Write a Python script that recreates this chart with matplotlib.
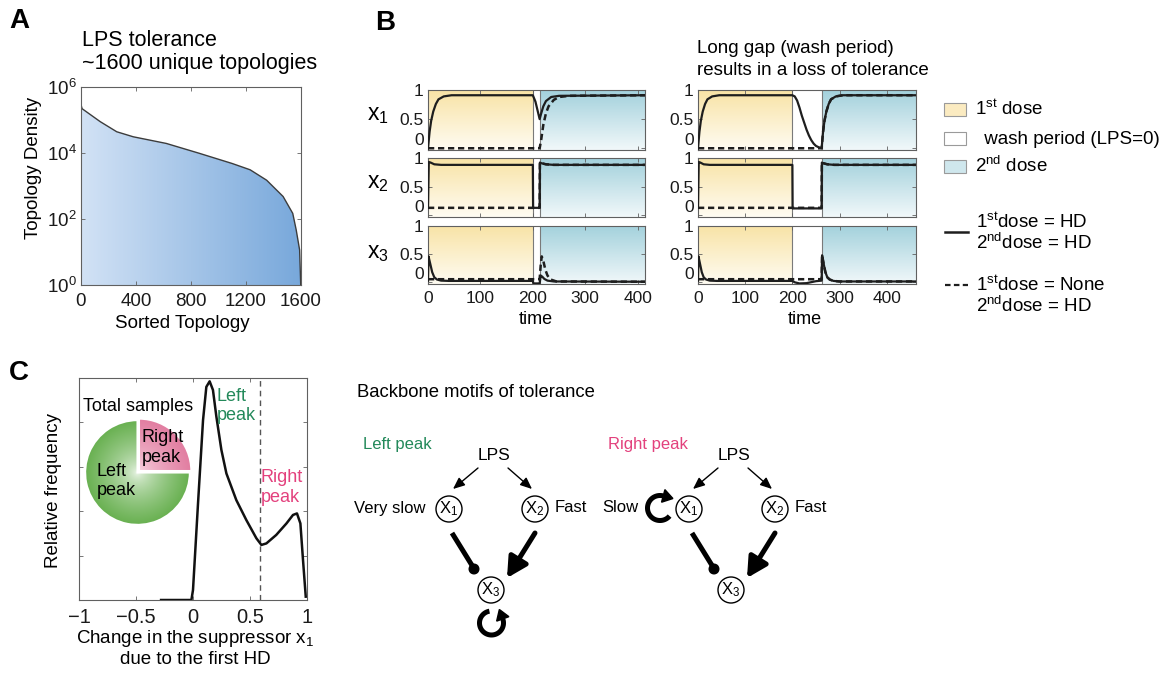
import numpy as np
import matplotlib
matplotlib.use("agg")
import matplotlib.pyplot as plt
from matplotlib.colors import LinearSegmentedColormap, to_rgb
from matplotlib.patches import Polygon, Rectangle, Circle, FancyArrowPatch
from matplotlib.ticker import NullLocator

plt.rcParams['font.family'] = ['Liberation Sans', 'DejaVu Sans']
plt.rcParams['mathtext.fontset'] = 'custom'
plt.rcParams['mathtext.rm'] = 'Liberation Sans'
plt.rcParams['mathtext.it'] = 'Liberation Sans:italic'
plt.rcParams['mathtext.bf'] = 'Liberation Sans:bold'

W, H = 1166, 680

# ---- A: density of each unique topology, sorted
topo_rank = [0, 8, 140, 260, 380, 620, 860, 1100, 1230, 1350, 1470, 1540, 1565, 1590, 1598]
topo_density = [2.9e5, 2.2e5, 8.9e4, 4.4e4, 3.1e4, 1.95e4, 9.8e3, 4.8e3, 3.1e3,
                1.5e3, 480, 148, 47, 11.5, 1]

# ---- B: time courses (time, level); short gap = wash 200-213, long gap = wash 200-262
short_wash = (200, 213)
long_wash = (200, 262)

short_x1_hd = [(0, 0), (3, 0.28), (6, 0.47), (10, 0.63), (15, 0.76), (20, 0.84), (30, 0.89),
               (45, 0.91), (200, 0.91), (205, 0.80), (209, 0.65), (213, 0.50), (216, 0.60),
               (220, 0.72), (225, 0.81), (235, 0.88), (250, 0.90), (414, 0.91)]
short_x1_none = [(0, 0), (213, 0), (216, 0.15), (220, 0.40), (225, 0.60), (230, 0.72),
                 (240, 0.83), (250, 0.88), (270, 0.90), (414, 0.91)]
short_x2_hd = [(0, 0.13), (1.5, 0.93), (5, 0.92), (12, 0.89), (25, 0.88), (200, 0.88),
               (200.5, 0.13), (213, 0.13), (213.5, 0.92), (216, 0.91), (225, 0.89),
               (240, 0.88), (414, 0.88)]
short_x2_none = [(0, 0.13), (213, 0.13), (213.5, 0.92), (216, 0.91), (225, 0.89),
                 (240, 0.88), (414, 0.88)]
short_x3_hd = [(0, 0.03), (1, 0.46), (4, 0.34), (8, 0.18), (12, 0.09), (17, 0.05), (25, 0.03),
               (40, 0.025), (200, 0.025), (201, -0.02), (213, -0.02), (215, 0.12), (218, 0.10),
               (222, 0.06), (228, 0.03), (240, 0.015), (414, 0.01)]
short_x3_none = [(0, 0.055), (213, 0.055), (215, 0.30), (217, 0.46), (220, 0.38), (224, 0.22),
                 (228, 0.12), (234, 0.05), (245, 0.015), (414, 0.01)]

long_x1_hd = [(0, 0), (3, 0.28), (6, 0.47), (10, 0.63), (15, 0.76), (20, 0.84), (30, 0.89),
              (45, 0.91), (200, 0.91), (205, 0.89), (210, 0.82), (215, 0.70), (220, 0.56),
              (225, 0.44), (230, 0.32), (235, 0.22), (240, 0.14), (245, 0.08), (250, 0.04),
              (255, 0.02), (262, 0), (265, 0.28), (268, 0.47), (272, 0.63), (277, 0.76),
              (282, 0.84), (292, 0.89), (307, 0.91), (462, 0.91)]
long_x1_none = [(0, 0), (262, 0), (265, 0.28), (268, 0.47), (272, 0.63), (277, 0.76),
                (282, 0.84), (292, 0.89), (307, 0.91), (462, 0.91)]
long_x2_hd = [(0, 0.13), (1.5, 0.93), (5, 0.92), (12, 0.89), (25, 0.88), (200, 0.88),
              (200.5, 0.12), (262, 0.12), (262.5, 0.92), (265, 0.91), (274, 0.89),
              (289, 0.88), (462, 0.88)]
long_x2_none = [(0, 0.13), (262, 0.13), (262.5, 0.92), (265, 0.91), (274, 0.89),
                (289, 0.88), (462, 0.88)]
long_x3_hd = [(0, 0.03), (1, 0.46), (4, 0.34), (8, 0.18), (12, 0.09), (17, 0.05), (25, 0.03),
              (40, 0.025), (200, 0.025), (205, 0.0), (215, -0.02), (230, -0.015), (250, 0.02),
              (262, 0.03), (263, 0.48), (266, 0.34), (270, 0.18), (274, 0.09), (279, 0.05),
              (287, 0.025), (300, 0.015), (462, 0.015)]
long_x3_none = [(0, 0.055), (262, 0.055), (263, 0.48), (266, 0.34), (270, 0.18), (274, 0.09),
                (279, 0.05), (287, 0.025), (300, 0.015), (462, 0.015)]

# ---- C: distribution of the change in x1 after the first HD
shift_x = [-0.28, -0.014, 0.0, 0.044, 0.088, 0.117, 0.146, 0.175, 0.205, 0.249, 0.293, 0.38,
           0.468, 0.556, 0.60, 0.644, 0.73, 0.82, 0.877, 0.912, 0.942, 0.965, 0.989]
rel_freq = [0, 0, 0.045, 0.435, 0.81, 0.96, 0.985, 0.946, 0.826, 0.676, 0.57, 0.45, 0.36,
            0.278, 0.248, 0.255, 0.293, 0.345, 0.383, 0.39, 0.345, 0.18, 0.015]
peak_split = 0.59
pie_shares = [25, 75]          # right peak, left peak

fig = plt.figure(figsize=(W / 100, H / 100), dpi=100)


def px_axes(left, top, right, bottom):
    return fig.add_axes([left / W, 1 - bottom / H, (right - left) / W, (bottom - top) / H])


def boxed(ax, size):
    for s in ax.spines.values():
        s.set_color('#606060')
        s.set_linewidth(0.8)
    ax.tick_params(which='both', direction='in', top=True, right=True, length=3, width=0.6,
                   color='#606060', labelcolor='#1a1a1a', labelsize=size)


# ================= A =================
axA = px_axes(81, 87, 301, 285)
ramp = np.linspace(0, 1, 256)[None, :]
blues = LinearSegmentedColormap.from_list('topo', ['#d2e2f5', '#78a8db'])
fillimg = axA.imshow(ramp, cmap=blues, aspect='auto', extent=[0, 1, 0, 1],
                     transform=axA.transAxes, zorder=1)
axA.set_yscale('log')
shape = Polygon(list(zip(topo_rank, topo_density)) + [(1600, 1), (0, 1)], closed=True,
                facecolor='none', edgecolor='none')
axA.add_patch(shape)
fillimg.set_clip_path(shape)
axA.plot(topo_rank, topo_density, color='#3c3c3c', lw=1, zorder=2)
axA.set_xlim(0, 1600)
axA.set_ylim(1, 1e6)
axA.set_xticks([0, 400, 800, 1200, 1600])
axA.set_yticks([1, 1e2, 1e4, 1e6])
axA.set_yticklabels([r'$\mathregular{10^{%d}}$' % p for p in (0, 2, 4, 6)])
axA.yaxis.set_minor_locator(NullLocator())
boxed(axA, 13.5)
axA.tick_params(axis='x', pad=6)
axA.tick_params(axis='y', pad=3)

# ================= B =================
ylo, yhi = -0.03, 1.0


def shade(ax, x0, x1, c_top, c_bottom):
    g = np.linspace(0, 1, 64)[:, None, None]
    img = (1 - g) * np.array(to_rgb(c_top)) + g * np.array(to_rgb(c_bottom))
    ax.imshow(img, extent=[x0, x1, ylo, yhi], origin='upper', aspect='auto', zorder=0)


b_columns = [
    (428, 645, 414, short_wash, [(short_x1_hd, short_x1_none), (short_x2_hd, short_x2_none),
                                 (short_x3_hd, short_x3_none)]),
    (698, 916, 462, long_wash, [(long_x1_hd, long_x1_none), (long_x2_hd, long_x2_none),
                                (long_x3_hd, long_x3_none)]),
]
b_rows = [(90, 150), (158, 217), (226, 284)]

for left, right, tmax, (w0, w1), traces in b_columns:
    for r, (top, bottom) in enumerate(b_rows):
        ax = px_axes(left, top, right, bottom)
        shade(ax, 0, w0, '#f8e3a6', '#fffcf2')
        shade(ax, w1, tmax, '#a3d1dc', '#f1f8fa')
        ax.axvline(w0, color='#7a7a7a', lw=0.8, zorder=1)
        ax.axvline(w1, color='#7a7a7a', lw=0.8, zorder=1)
        hd, none = traces[r]
        ax.plot(*zip(*hd), color='#1e1e1e', lw=1.6, zorder=3)
        ax.plot(*zip(*none), color='#1e1e1e', lw=1.8, ls=(0, (2.5, 1.5)), zorder=4)
        ax.set_xlim(0, tmax)
        ax.set_ylim(ylo, yhi)
        ax.set_xticks([0, 100, 200, 300, 400])
        ax.set_yticks([0, 0.5, 1])
        ax.set_yticklabels(['0', '0.5', '1'])
        boxed(ax, 12.5)
        ax.tick_params(axis='x', pad=5)
        ax.tick_params(axis='y', pad=3)
        # lift the "0" label so it clears the "1" of the panel below
        ax.yaxis.get_major_ticks()[0].label1.set_verticalalignment('bottom')
        if r < 2:
            ax.tick_params(labelbottom=False)

# ================= C =================
axC = px_axes(79, 378, 307, 600)
axC.plot(shift_x, rel_freq, color='#111111', lw=1.8, zorder=3)
axC.axvline(peak_split, color='#555555', lw=1, ls=(0, (4, 3)), zorder=2)
axC.set_xlim(-1, 1)
axC.set_ylim(0, 1)
axC.set_xticks([-1, -0.5, 0, 0.5, 1])
axC.set_xticklabels(['\u22121', '\u22120.5', '0', '0.5', '1'])
axC.set_yticks([0.2, 0.4, 0.6, 0.8])
axC.set_yticklabels([])
boxed(axC, 14.5)
axC.tick_params(axis='x', pad=6)
axC.text(-0.962, 0.871, 'Total samples', fontsize=13, va='center', ha='left')
axC.text(0.205, 0.874, 'Left\npeak', fontsize=13, va='center', ha='left', color='#23895a')
axC.text(0.594, 0.507, 'Right\npeak', fontsize=13, va='center', ha='left', color='#e3417d')

# pie of samples split at the trough
axP = px_axes(82, 417, 193, 528)
wedges, _ = axP.pie(pie_shares, colors=['#e486a6', '#72b65c'], startangle=0, counterclock=True,
                    explode=[0.04, 0], wedgeprops=dict(edgecolor='white', linewidth=1.5))
gx, gy = np.meshgrid(np.linspace(-1.1, 1.1, 220), np.linspace(-1.1, 1.1, 220))
rad = np.clip(np.hypot(gx, gy), 0, 1)[..., None] ** 0.6
for wedge, inner, outer in zip(wedges, ['#fbe4ec', '#f4faf2'], ['#e27fa2', '#68b050']):
    img = np.array(to_rgb(inner)) * (1 - rad) + np.array(to_rgb(outer)) * rad
    im = axP.imshow(img, extent=[-1.1, 1.1, -1.1, 1.1], origin='lower', zorder=1)
    im.set_clip_path(wedge)
    wedge.set_facecolor('none')
    wedge.set_zorder(2)
axP.set_xlim(-1.06, 1.06)
axP.set_ylim(-1.06, 1.06)
axP.set_aspect('equal')
axP.axis('off')
axP.text(0.08, 0.48, 'Right\npeak', fontsize=13, va='center', ha='left', zorder=3)
axP.text(-0.78, -0.16, 'Left\npeak', fontsize=13, va='center', ha='left', zorder=3)

# ================= overlay: labels, legend, motifs =================
ov = fig.add_axes([0, 0, 1, 1])
ov.set_xlim(0, W)
ov.set_ylim(H, 0)
ov.axis('off')

for letter, x, y in [('A', 9, 28), ('B', 375, 30), ('C', 9, 380)]:
    ov.text(x, y, letter, fontsize=20, fontweight='bold', va='baseline')

ov.text(82, 46.5, 'LPS tolerance', fontsize=15.5, va='baseline')
ov.text(82, 68.5, '~1600 unique topologies', fontsize=15.5, va='baseline')
ov.text(34, 168, 'Topology Density', fontsize=13.5, rotation=90, ha='center', va='center')
ov.text(182, 323, 'Sorted Topology', fontsize=13.5, ha='center', va='center')

for i, base in enumerate([120, 188, 258]):
    ov.text(367, base, r'$\mathregular{x_%d}$' % (i + 1), fontsize=16.5, va='baseline')
ov.text(536, 320, 'time', fontsize=13, ha='center', va='center')
ov.text(805, 320, 'time', fontsize=13, ha='center', va='center')
ov.text(697, 53, 'Long gap (wash period)', fontsize=13.5, va='baseline')
ov.text(697, 75, 'results in a loss of tolerance', fontsize=13.5, va='baseline')

legend_boxes = [(103, '#fbebc1', r'$\mathregular{1^{st}}$ dose', 975),
                (132, 'white', ' wash period (LPS=0)', 979),
                (160, '#cfe7ed', r'$\mathregular{2^{nd}}$ dose', 975)]
for top, color, label, tx in legend_boxes:
    ov.add_patch(Rectangle((944, top), 22, 13, facecolor=color, edgecolor='#9a9a9a', lw=0.8))
    ov.text(tx, top + 12, label, fontsize=13.5, va='baseline')

ov.plot([945, 968], [232, 232], color='#1e1e1e', lw=1.8)
ov.text(976, 228, r'$\mathregular{1^{st}}$dose = HD', fontsize=13.5, va='baseline')
ov.text(976, 249, r'$\mathregular{2^{nd}}$dose = HD', fontsize=13.5, va='baseline')
ov.plot([945, 968], [285, 285], color='#1e1e1e', lw=1.6, ls=(0, (2.5, 1.5)))
ov.text(976, 291, r'$\mathregular{1^{st}}$dose = None', fontsize=13.5, va='baseline')
ov.text(976, 312, r'$\mathregular{2^{nd}}$dose = HD', fontsize=13.5, va='baseline')

ov.text(54, 491, 'Relative frequency', fontsize=13.5, rotation=90, ha='center', va='center')
ov.text(195, 643, r'Change in the suppressor $\mathregular{x_1}$', fontsize=13.5,
        ha='center', va='baseline')
ov.text(195, 664, 'due to the first HD', fontsize=13.5, ha='center', va='baseline')

ov.text(357, 397, 'Backbone motifs of tolerance', fontsize=13.3, va='baseline')
ov.text(363, 449, 'Left peak', fontsize=12, color='#23895a', va='baseline')
ov.text(608, 449, 'Right peak', fontsize=12, color='#e3417d', va='baseline')


def arrow(p0, p1, lw, head):
    ov.add_patch(FancyArrowPatch(p0, p1, arrowstyle=head, mutation_scale=20, lw=lw,
                                 color='black', shrinkA=0, shrinkB=0))


def loop_arrow(cx, cy, r, a0, a1):
    a = np.radians(np.linspace(a0, a1, 80))
    xs = cx + r * np.cos(a)
    ys = cy - r * np.sin(a)
    ov.plot(xs, ys, color='black', lw=3.6, solid_capstyle='butt')
    s = np.sign(a1 - a0)
    d = s * np.array([-np.sin(a[-1]), -np.cos(a[-1])])
    n = np.array([d[1], -d[0]])
    base = np.array([xs[-1], ys[-1]])
    ov.add_patch(Polygon([base + d * 10, base + n * 6.5, base - n * 6.5], closed=True,
                         color='black'))


def motif(dx, speed, speed_x, loop):
    ov.text(494 + dx, 456, 'LPS', fontsize=12.5, ha='center', va='center')
    nodes = {1: (449 + dx, 509), 2: (535 + dx, 509), 3: (491 + dx, 590)}
    for k, (x, y) in nodes.items():
        ov.add_patch(Circle((x, y), 13, facecolor='white', edgecolor='black', lw=1))
        ov.text(x, y, r'$\mathregular{X_%d}$' % k, fontsize=12, ha='center', va='center')
    thin = '-|>,head_length=0.35,head_width=0.15'
    arrow((478 + dx, 468), (453 + dx, 489), 1, thin)
    arrow((508 + dx, 468), (532 + dx, 489), 1, thin)
    # x1 inhibits x3, x2 activates x3
    ov.plot([452 + dx, 473 + dx], [533, 567], color='black', lw=3.6, solid_capstyle='butt')
    ov.add_patch(Circle((474 + dx, 569), 4.8, color='black'))
    arrow((535 + dx, 533), (507 + dx, 578), 3.6, '-|>,head_length=0.6,head_width=0.32')
    ov.text(speed_x, 508, speed, fontsize=12, ha='right', va='center')
    ov.text(555 + dx, 508, 'Fast', fontsize=12, ha='left', va='center')
    loop_arrow(*loop)


motif(0, 'Very slow', 426, (491.5, 623, 12, 100, 380))
motif(240, 'Slow', 638, (660, 508, 12.5, 320, 75))

fig.savefig('out.png', dpi=100)
